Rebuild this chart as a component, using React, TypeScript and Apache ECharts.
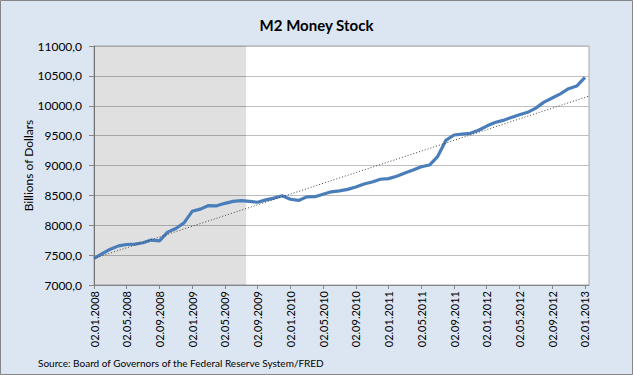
import React, { useEffect, useRef } from 'react';
import * as echarts from 'echarts';

// Monthly M2 money stock, Jan 2008 .. Jan 2013 (billions of dollars)
const m2Values: number[] = [
  7446, 7525, 7600, 7655, 7678, 7685, 7707, 7752, 7738, 7885,
  7945, 8040, 8233, 8270, 8330, 8325, 8367, 8400, 8411, 8400,
  8385, 8425, 8455, 8495, 8435, 8415, 8475, 8478, 8520, 8560,
  8575, 8600, 8640, 8690, 8725, 8770, 8780, 8820, 8875, 8925,
  8980, 9008, 9150, 9420, 9510, 9525, 9540, 9590, 9660, 9720,
  9755, 9805, 9850, 9890, 9960, 10060, 10130, 10200, 10285, 10330,
  10476,
];

// One tick label every 4 months
const xTickLabels: string[] = [
  '02.01.2008', '02.05.2008', '02.09.2008', '02.01.2009', '02.05.2009', '02.09.2009',
  '02.01.2010', '02.05.2010', '02.09.2010', '02.01.2011', '02.05.2011', '02.09.2011',
  '02.01.2012', '02.05.2012', '02.09.2012', '02.01.2013',
];

// Recession shading (month index range)
const recessionStart = 0;
const recessionEnd = 18.6;

const xMax = 60.5;

export default function App() {
  const ref = useRef<HTMLDivElement>(null);

  useEffect(() => {
    document.body.style.margin = '0';
    if (!ref.current) return;
    const chart = echarts.init(ref.current, undefined, { renderer: 'svg' });

    const pts = m2Values.map((v, i) => [i, v]);
    // least-squares linear trend
    const n = m2Values.length;
    let sx = 0, sy = 0, sxx = 0, sxy = 0;
    m2Values.forEach((v, i) => { sx += i; sy += v; sxx += i * i; sxy += i * v; });
    const b = (n * sxy - sx * sy) / (n * sxx - sx * sx);
    const a = (sy - b * sx) / n;
    const trend = [[0, a], [xMax, a + b * xMax]];

    const font = 'Lato, "Open Sans", sans-serif';

    chart.setOption({
      animation: false,
      backgroundColor: '#dce6f2',
      textStyle: { fontFamily: font },
      title: {
        text: 'M2 Money Stock',
        left: 'center',
        top: 12,
        textStyle: { fontFamily: font, fontSize: 15, fontWeight: 'bold', color: '#000' },
      },
      graphic: [
        {
          type: 'rect',
          shape: { x: 0.5, y: 0.5, width: 632, height: 374 },
          style: { fill: 'none', stroke: '#868686', lineWidth: 1 },
          silent: true,
        },
        {
          type: 'text',
          left: 38,
          top: 358,
          style: {
            text: 'Source: Board of Governors of the Federal Reserve System/FRED',
            fontFamily: font,
            fontSize: 10,
            fill: '#000',
          },
        },
      ],
      grid: {
        left: 94,
        right: 44,
        top: 46,
        bottom: 90,
        show: true,
        backgroundColor: '#ffffff',
        borderColor: '#a6a6a6',
        borderWidth: 1,
      },
      xAxis: {
        type: 'value',
        min: 0,
        max: xMax,
        interval: 4,
        axisLine: { show: true, onZero: false, lineStyle: { color: '#868686', width: 1 } },
        axisTick: { show: true, length: 4, lineStyle: { color: '#868686' } },
        splitLine: { show: false },
        axisLabel: {
          rotate: 90,
          margin: 6,
          fontSize: 11,
          fontFamily: font,
          color: '#000',
          showMaxLabel: false,
          formatter: (v: number) => {
            const k = v / 4;
            return Number.isInteger(k) && xTickLabels[k] ? xTickLabels[k] : '';
          },
        },
      },
      yAxis: {
        type: 'value',
        min: 7000,
        max: 11000,
        interval: 500,
        name: 'Billions of Dollars',
        nameLocation: 'middle',
        nameGap: 60,
        nameMoveOverlap: false,
        nameTextStyle: { fontFamily: font, fontSize: 12, color: '#000' },
        axisLine: { show: true, lineStyle: { color: '#868686', width: 1 } },
        axisTick: { show: true, length: 5, lineStyle: { color: '#868686' } },
        splitLine: { show: true, lineStyle: { color: '#bfbfbf', width: 1 } },
        axisLabel: {
          margin: 12,
          fontSize: 12,
          fontFamily: font,
          color: '#000',
          formatter: (v: number) => v.toFixed(1).replace('.', ','),
        },
      },
      series: [
        {
          type: 'line',
          name: 'M2',
          data: pts,
          showSymbol: false,
          symbol: 'none',
          lineStyle: { color: '#4a7ebb', width: 3.2 },
          z: 3,
          markArea: {
            silent: true,
            itemStyle: { color: 'rgba(0,0,0,0.12)' },
            data: [[{ xAxis: recessionStart }, { xAxis: recessionEnd }]],
          },
        },
        {
          type: 'line',
          name: 'Trend',
          data: trend,
          showSymbol: false,
          symbol: 'none',
          lineStyle: { color: '#404040', width: 1, type: [1, 2] },
          z: 4,
        },
      ],
    });

    return () => chart.dispose();
  }, []);

  return <div ref={ref} style={{ width: 633, height: 375 }} />;
}
